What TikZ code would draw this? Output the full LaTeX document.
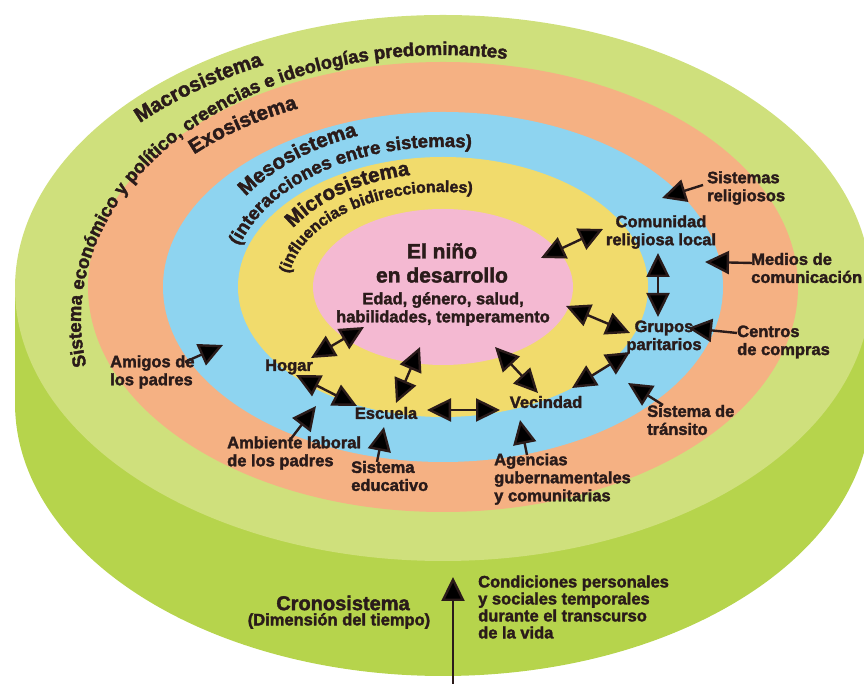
\documentclass[tikz,border=0pt]{standalone}
\usepackage{fontspec}
\setmainfont{Liberation Sans}[BoldFeatures={FakeBold=2}]
\usetikzlibrary{arrows.meta,decorations.text}
\definecolor{ltgreen}{HTML}{CFE07C}
\definecolor{dkgreen}{HTML}{B6D44C}
\definecolor{exoc}{HTML}{F5B183}
\definecolor{mesoc}{HTML}{8ED4F0}
\definecolor{microc}{HTML}{F1DB6C}
\definecolor{childc}{HTML}{F4B9D2}
\definecolor{txt}{HTML}{2A1B1A}
\newcommand\lblfont{\bfseries\fontsize{16.5}{18}\selectfont}
\newcommand\arcbig{\bfseries\fontsize{20.5}{20}\selectfont}
\newcommand\arcmid{\bfseries\fontsize{18.5}{18}\selectfont}
\newcommand\arcgreen{\bfseries\fontsize{18.5}{19}\selectfont}
\newcommand\arcsmall{\bfseries\fontsize{16}{16}\selectfont}
\tikzset{
  lbl/.style={font=\lblfont, text=txt, align=left, inner sep=0pt},
  ctr/.style={font=\lblfont, text=txt, align=center, inner sep=0pt},
  arr/.style={draw=txt, line width=2.4pt, -{Triangle[length=24pt,width=23pt]}},
  darr/.style={draw=txt, line width=2.4pt, {Triangle[length=24pt,width=23pt]}-{Triangle[length=24pt,width=23pt]}},
  arctxt/.style={decorate, decoration={text along path, text color=txt, text={#1}}}
}
\begin{document}
\begin{tikzpicture}[x=1pt,y=1pt]
\useasboundingbox (0,0) rectangle (864,684);
\clip (0,0) rectangle (864,684);
% cylinder
\fill[dkgreen] (15,396) -- (15,281) arc[start angle=180,end angle=360,x radius=428,y radius=273] -- (871,396) -- cycle;
\fill[ltgreen] (443,396) ellipse[x radius=428,y radius=273];
\fill[exoc] (443,397) ellipse[x radius=355,y radius=225];
\fill[mesoc] (443,397) ellipse[x radius=280,y radius=175];
\fill[microc] (443,397) ellipse[x radius=205,y radius=130];
\fill[childc] (443,397) ellipse[x radius=130,y radius=78];
% curved texts
\path[arctxt={|\arcbig|Macrosistema}] ([shift={(135.5:425 and 281)}]443,364) arc[start angle=135.5,end angle=60,x radius=425,y radius=281];
\path[arctxt={|\arcgreen|Sistema económico y político, creencias e ideologías predominantes}] ([shift={(190:362 and 265)}]443,364) arc[start angle=190,end angle=40,x radius=362,y radius=265];
\path[arctxt={|\arcbig|Exosistema}] ([shift={(138:335 and 198)}]443,397) arc[start angle=138,end angle=60,x radius=335,y radius=198];
\path[arctxt={|\arcbig|Mesosistema}] ([shift={(146:238 and 162)}]443,397) arc[start angle=146,end angle=60,x radius=238,y radius=162];
\path[arctxt={|\arcmid|(interacciones entre sistemas)}] ([shift={(163:213 and 140)}]443,397) arc[start angle=163,end angle=40,x radius=213,y radius=140];
\path[arctxt={|\arcbig|Microsistema}] ([shift={(149:175 and 114)}]443,397) arc[start angle=149,end angle=60,x radius=175,y radius=114];
\path[arctxt={|\arcsmall|(influencias bidireccionales)}] ([shift={(172:155 and 95)}]443,397) arc[start angle=172,end angle=40,x radius=155,y radius=95];
% centre
\node[ctr, font=\bfseries\fontsize{21}{24}\selectfont] (child) at (442,421) {El niño\\en desarrollo};
\node[ctr] (attrs) at (443,375) {Edad, género, salud,\\habilidades, temperamento};
% micro / meso labels
\node[ctr] (comunidad) at (661,452) {Comunidad\\religiosa local};
\node[ctr] (grupos) at (664,347) {Grupos\\paritarios};
\node[ctr] (hogar) at (289,317) {Hogar};
\node[ctr] (escuela) at (386,271) {Escuela};
\node[ctr] (vecindad) at (546,282) {Vecindad};
% exo labels
\node[lbl, anchor=west] (relig) at (707,496) {Sistemas\\religiosos};
\node[lbl, anchor=west] (medios) at (751,416) {Medios de\\comunicación};
\node[lbl, anchor=west] (centros) at (737,342) {Centros\\de compras};
\node[lbl, anchor=west] (transito) at (647,264) {Sistema de\\tránsito};
\node[lbl, anchor=west] (amigos) at (110,312) {Amigos de\\los padres};
\node[lbl, anchor=west] (ambiente) at (227,231) {Ambiente laboral\\de los padres};
\node[lbl, anchor=west] (educ) at (351,208) {Sistema\\educativo};
\node[lbl, anchor=west] (agencias) at (494,205) {Agencias\\gubernamentales\\y comunitarias};
% chrono
\node[ctr, font=\bfseries\fontsize{20}{20}\selectfont] (crono) at (343,81) {Cronosistema};
\node[ctr, font=\bfseries\fontsize{16.5}{18}\selectfont] (dimension) at (339,63) {(Dimensión del tiempo)};
\node[lbl, anchor=west, font=\bfseries\fontsize{16.5}{17}\selectfont] (cond) at (478,77) {Condiciones personales\\y sociales temporales\\durante el transcurso\\de la vida};
% arrow end points
\coordinate (r1) at (703,499); \coordinate (r2) at (662,486);
\coordinate (m1) at (752,421); \coordinate (m2) at (705,422);
\coordinate (c1) at (737,351); \coordinate (c2) at (688,356);
\coordinate (t1) at (663,279); \coordinate (t2) at (628,301);
\coordinate (cp1) at (603,455); \coordinate (cp2) at (541,426);
\coordinate (cg1) at (658,431); \coordinate (cg2) at (658,367);
\coordinate (gp1) at (630,351); \coordinate (gp2) at (566,378);
\coordinate (gv1) at (630,332); \coordinate (gv2) at (572,296);
\coordinate (hp1) at (311,326); \coordinate (hp2) at (364,357);
\coordinate (he1) at (296,309); \coordinate (he2) at (357,278);
\coordinate (ep1) at (396,281); \coordinate (ep2) at (420,337);
\coordinate (ev1) at (427,274); \coordinate (ev2) at (500,274);
\coordinate (vp1) at (538,291); \coordinate (vp2) at (495,337);
\coordinate (a1) at (185,322); \coordinate (a2) at (223,339);
\coordinate (l1) at (290,244); \coordinate (l2) at (316,278);
\coordinate (s1) at (377,222); \coordinate (s2) at (384,257);
\coordinate (g1) at (527,229); \coordinate (g2) at (520,264);
\coordinate (k1) at (453,0); \coordinate (k2) at (453,107);
% arrows
\draw[arr] (r1) -- (r2);
\draw[arr] (m1) -- (m2);
\draw[arr] (c1) -- (c2);
\draw[arr] (t1) -- (t2);
\draw[darr] (cp1) -- (cp2);
\draw[darr] (cg1) -- (cg2);
\draw[darr] (gp1) -- (gp2);
\draw[darr] (gv1) -- (gv2);
\draw[darr] (hp1) -- (hp2);
\draw[darr] (he1) -- (he2);
\draw[darr] (ep1) -- (ep2);
\draw[darr] (ev1) -- (ev2);
\draw[darr] (vp1) -- (vp2);
\draw[arr] (a1) -- (a2);
\draw[arr] (l1) -- (l2);
\draw[arr] (s1) -- (s2);
\draw[arr] (g1) -- (g2);
\draw[arr] (k1) -- (k2);
\end{tikzpicture}
\end{document}
